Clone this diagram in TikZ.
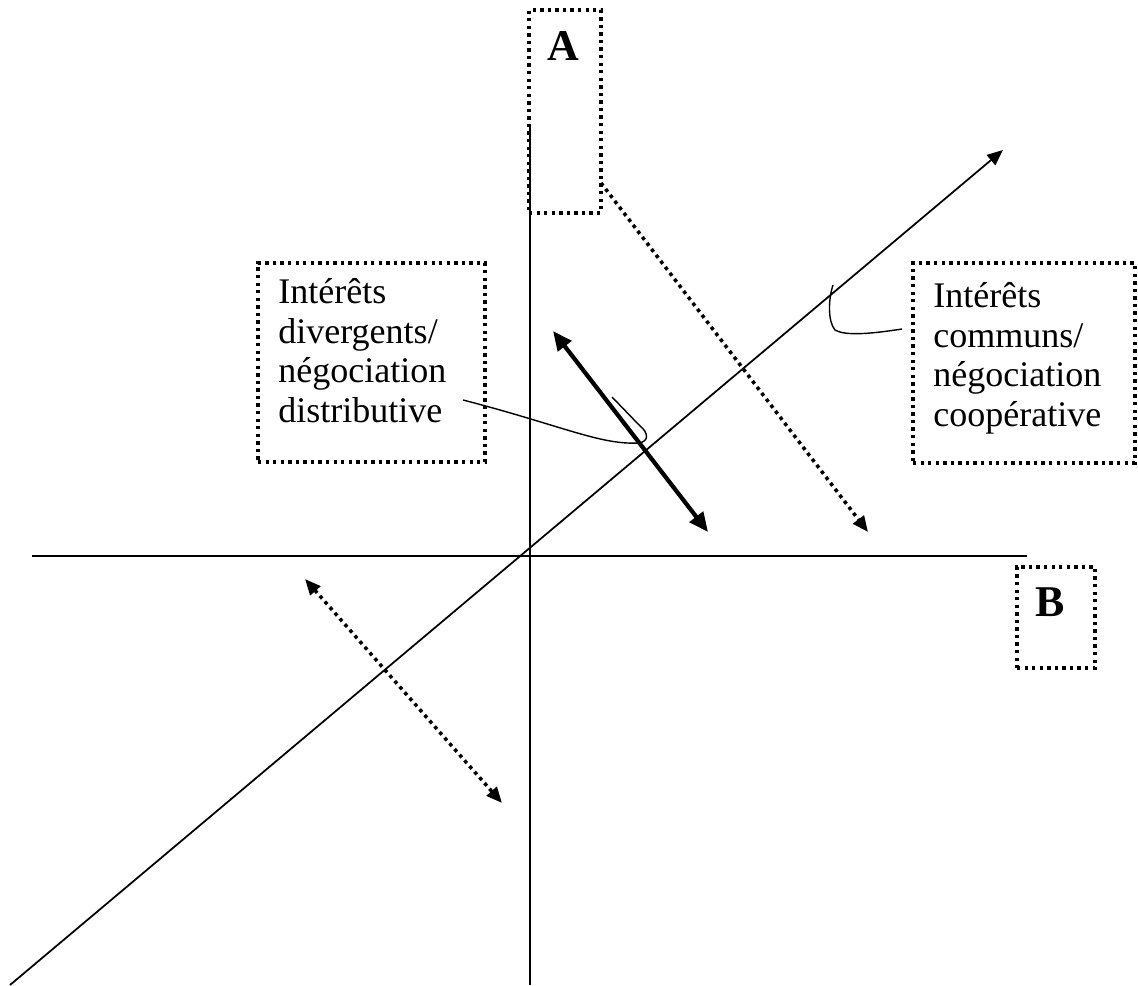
\documentclass[tikz,border=0pt]{standalone}
\usepackage{fontspec}
\setmainfont{Liberation Serif}
\usetikzlibrary{arrows.meta,positioning}

\begin{document}
\begin{tikzpicture}[x=0.02cm,y=-0.02cm,>={Triangle[length=9pt,width=7.5pt]},
    axis/.style={line width=1pt},
    dotbox/.style={draw,line width=1.9pt,dash pattern=on 1.9pt off 2.4pt,inner sep=0pt,outer sep=0pt},
    dotline/.style={line width=2pt,dash pattern=on 2pt off 2.3pt},
    txt/.style={align=left,inner sep=0pt,font=\fontsize{20.5}{22.6}\selectfont},
    letter/.style={font=\fontsize{25}{28}\selectfont\bfseries},
    callout/.style={line width=0.8pt}]

  \useasboundingbox (0,0) rectangle (1138,986);

  \node[dotbox,minimum width=1.44cm,minimum height=4.06cm,anchor=north west] (boxA) at (529,10) {};
  \node[letter] (labA) at (563,46) {A};
  \node[dotbox,minimum width=1.56cm,minimum height=2.02cm,anchor=north west] (boxB) at (1017,567) {};
  \node[letter] (labB) at (1050,602) {B};
  \node[dotbox,minimum width=4.54cm,minimum height=3.98cm,anchor=north west] (boxdiv) at (258,263) {};
  \node[txt,below right=0.3cm and 0.4cm of boxdiv.north west] (divtxt)
    {Intérêts\\divergents/\\négociation\\distributive};
  \node[dotbox,minimum width=4.44cm,minimum height=4cm,anchor=north west] (boxcom) at (913,263) {};
  \node[txt,below right=0.38cm and 0.4cm of boxcom.north west] (comtxt)
    {Intérêts\\communs/\\négociation\\coopérative};

  \coordinate (v1) at (530,125);
  \coordinate (v2) at (530,985);
  \coordinate (h1) at (32,556);
  \coordinate (h2) at (1027,556);
  \coordinate (g1) at (10,985);
  \coordinate (g2) at (1003,150);
  \coordinate (t1) at (553,331);
  \coordinate (t2) at (708,532);
  \coordinate (d1) at (868,532);
  \coordinate (l1) at (305,579);
  \coordinate (l2) at (502,803);
  \coordinate (divfoot) at (463,400);
  \coordinate (divtip) at (612,397);
  \coordinate (comfoot) at (902,329);
  \coordinate (comtip) at (833,285);

  \draw[axis] (v1) -- (v2);
  \draw[axis] (h1) -- (h2);
  \draw[axis,->] (g1) -- (g2);
  \draw[line width=2.4pt,<->,>={Triangle[length=11pt,width=9.5pt]}] (t1) -- (t2);
  \draw[dotline,->] ([yshift=0.6cm]boxA.south east) -- (d1);
  \draw[dotline,<->] (l1) -- (l2);

  \draw[callout] (divfoot) .. controls (560,425) and (600,445) .. (638,443)
    .. controls (650,442) and (648,432) .. (640,426) -- (divtip);
  \draw[callout] (comfoot) .. controls (870,334) and (845,336) .. (835,330)
    .. controls (828,322) and (828,300) .. (comtip);

\end{tikzpicture}
\end{document}
